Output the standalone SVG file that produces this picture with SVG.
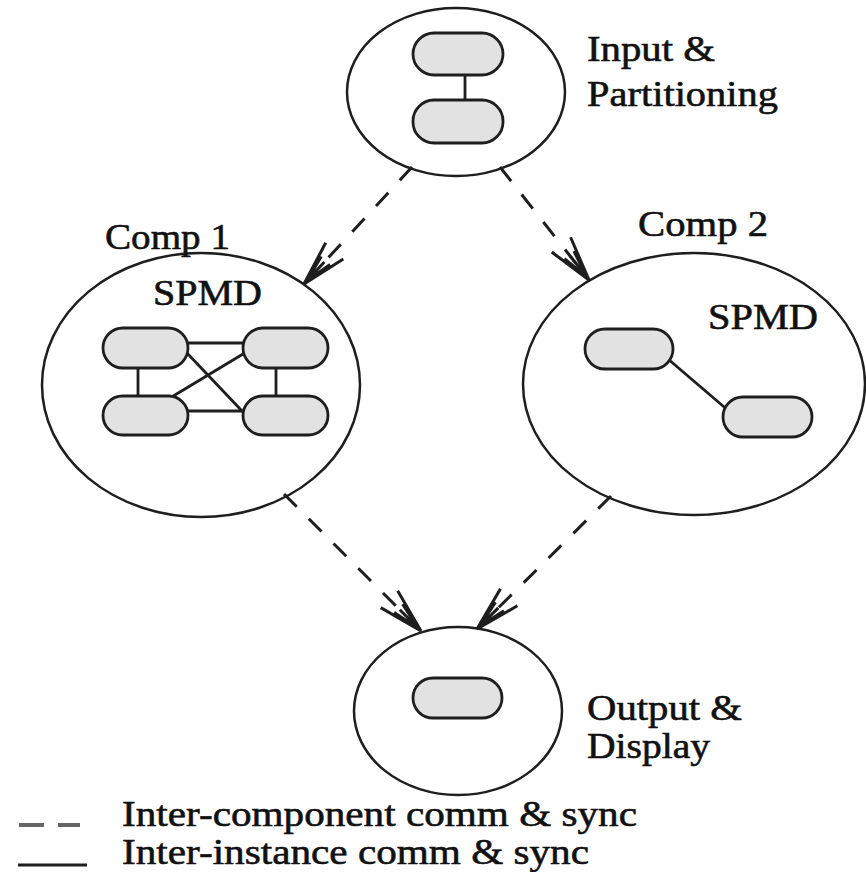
<svg xmlns="http://www.w3.org/2000/svg" width="866" height="872" viewBox="0 0 866 872">
  <style>
    .node { fill: #ffffff; stroke: #1e1e1e; stroke-width: 2.5; }
    .pill { fill: #e2e2e2; stroke: #1e1e1e; stroke-width: 2.8; }
    .link { stroke: #1e1e1e; stroke-width: 2.8; fill: none; }
    .flow { stroke: #1e1e1e; stroke-width: 3; fill: none; stroke-dasharray: 18 17; }
    .label { font-family: "Liberation Serif", "Times New Roman", serif; font-size: 36px; fill: #111111; stroke: #111111; stroke-width: 0.6; }
  </style>
  <defs>
    <marker id="open-arrow" markerUnits="userSpaceOnUse" markerWidth="60" markerHeight="40" viewBox="-50 -20 60 40" refX="0" refY="0" orient="auto">
      <path d="M0,0 L-45,-12 M0,0 L-45,12 M0,0 L-30,0 M-4,0 L-32,-6 M-4,0 L-32,6" stroke="#1e1e1e" stroke-width="3" fill="none"/>
    </marker>
  </defs>

  <!-- Input & Partitioning -->
  <g id="input">
    <ellipse class="node" cx="456" cy="92" rx="109" ry="84"/>
    <rect class="pill" x="413" y="33" width="90" height="42" rx="21"/>
    <rect class="pill" x="413" y="100" width="90" height="43" rx="21"/>
    <line class="link" x1="465" y1="75" x2="465" y2="100"/>
    <text class="label" x="587" y="61" textLength="128" lengthAdjust="spacingAndGlyphs">Input &amp;</text>
    <text class="label" x="587" y="106" textLength="191" lengthAdjust="spacingAndGlyphs">Partitioning</text>
  </g>

  <!-- Comp 1: SPMD with four fully connected instances -->
  <g id="comp1">
    <ellipse class="node" cx="201" cy="385" rx="159" ry="132"/>
    <text class="label" x="105" y="249" textLength="125" lengthAdjust="spacingAndGlyphs">Comp 1</text>
    <text class="label" x="153" y="305" textLength="109" lengthAdjust="spacingAndGlyphs">SPMD</text>
    <line class="link" x1="188" y1="343" x2="243" y2="343"/>
    <line class="link" x1="188" y1="411" x2="243" y2="411"/>
    <line class="link" x1="138" y1="368" x2="138" y2="396"/>
    <line class="link" x1="276" y1="368" x2="276" y2="396"/>
    <line class="link" x1="186" y1="352" x2="243" y2="412"/>
    <line class="link" x1="243" y1="354" x2="170" y2="398"/>
    <rect class="pill" x="103" y="328" width="85" height="40" rx="20"/>
    <rect class="pill" x="243" y="328" width="85" height="40" rx="20"/>
    <rect class="pill" x="103" y="396" width="85" height="39" rx="19.5"/>
    <rect class="pill" x="243" y="396" width="85" height="39" rx="19.5"/>
  </g>

  <!-- Comp 2: SPMD with two instances -->
  <g id="comp2">
    <ellipse class="node" cx="694" cy="384" rx="171" ry="131"/>
    <text class="label" x="638" y="236" textLength="130" lengthAdjust="spacingAndGlyphs">Comp 2</text>
    <text class="label" x="708" y="329" textLength="110" lengthAdjust="spacingAndGlyphs">SPMD</text>
    <line class="link" x1="668" y1="359" x2="730" y2="412"/>
    <rect class="pill" x="585" y="329" width="88" height="40" rx="20"/>
    <rect class="pill" x="723" y="397" width="89" height="40" rx="20"/>
  </g>

  <!-- Output & Display -->
  <g id="output">
    <ellipse class="node" cx="458" cy="711" rx="104" ry="84"/>
    <rect class="pill" x="413" y="678" width="89" height="40" rx="20"/>
    <text class="label" x="587" y="720" textLength="155" lengthAdjust="spacingAndGlyphs">Output &amp;</text>
    <text class="label" x="587" y="758" textLength="123" lengthAdjust="spacingAndGlyphs">Display</text>
  </g>

  <!-- inter-component flows -->
  <g id="connectors">
    <line class="flow" x1="412" y1="167" x2="304" y2="284" marker-end="url(#open-arrow)"/>
    <line class="flow" x1="500" y1="167" x2="589" y2="280" marker-end="url(#open-arrow)"/>
    <line class="flow" x1="284" y1="494" x2="421" y2="631" marker-end="url(#open-arrow)"/>
    <line class="flow" x1="611" y1="496" x2="477" y2="629" marker-end="url(#open-arrow)"/>
  </g>

  <!-- legend -->
  <g id="legend">
    <line x1="19" y1="825" x2="44" y2="825" stroke="#666666" stroke-width="4"/>
    <line x1="58" y1="825" x2="80" y2="825" stroke="#666666" stroke-width="4"/>
    <line x1="18" y1="865" x2="87" y2="865" stroke="#1e1e1e" stroke-width="3"/>
    <text class="label" x="122" y="826" textLength="515" lengthAdjust="spacingAndGlyphs">Inter-component comm &amp; sync</text>
    <text class="label" x="122" y="864" textLength="467" lengthAdjust="spacingAndGlyphs">Inter-instance comm &amp; sync</text>
  </g>
</svg>
